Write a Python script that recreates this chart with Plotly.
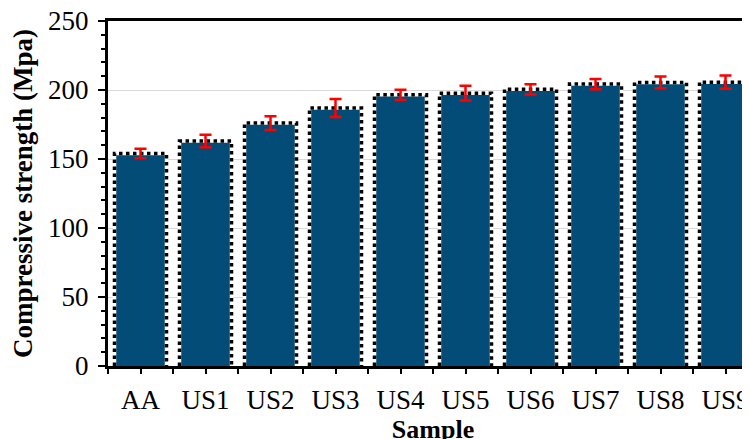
import plotly.graph_objects as go

samples = ["AA", "US1", "US2", "US3", "US4", "US5", "US6", "US7", "US8", "US9"]
strength = [154, 163, 176, 187, 196.5, 197.7, 200.5, 204.3, 205.5, 205.7]
error = [3.5, 4.5, 5, 6.5, 3.7, 5.3, 3.7, 3.7, 4.3, 4.8]

BAR_W = 0.8
FILL = "#034c78"
FONT = "Liberation Serif"

xs = list(range(len(samples)))

# outline path derived from data
ox, oy = [], []
for i, v in zip(xs, strength):
    ox += [i - BAR_W / 2, i - BAR_W / 2, i + BAR_W / 2, i + BAR_W / 2, None]
    oy += [0, v, v, 0, None]

fig = go.Figure()
fig.add_trace(go.Bar(x=xs, y=strength, width=BAR_W,
                     marker=dict(color=FILL, line=dict(width=0)),
                     showlegend=False, hoverinfo="skip"))
fig.add_trace(go.Scatter(x=ox, y=oy, mode="lines",
                         line=dict(color="white", width=3.5),
                         showlegend=False, hoverinfo="skip"))
fig.add_trace(go.Scatter(x=ox, y=oy, mode="lines",
                         line=dict(color="black", width=3.5, dash="dot"),
                         showlegend=False, hoverinfo="skip"))
fig.add_trace(go.Scatter(x=xs, y=strength, mode="markers",
                         marker=dict(size=1, color="rgba(0,0,0,0)"),
                         error_y=dict(type="data", array=error, visible=True,
                                      color="#ff0000", thickness=2.5, width=6),
                         showlegend=False, hoverinfo="skip"))

fig.update_layout(
    width=750, height=439,
    margin=dict(l=100, r=0, t=13, b=81, autoexpand=False),
    paper_bgcolor="white", plot_bgcolor="white",
    font=dict(family=FONT, color="black", size=27),
)
fig.update_xaxes(
    automargin=False,
    range=[-0.5, 9.5],
    tickmode="array", tickvals=xs, ticktext=samples,
    ticks="outside", ticklen=5, tickwidth=2, tickcolor="black",
    minor=dict(tickmode="linear", tick0=-0.5, dtick=1, ticks="outside",
               ticklen=5, tickwidth=2, tickcolor="black", showgrid=False),
    showline=True, linewidth=3, linecolor="black", mirror=True,
    showgrid=False, zeroline=False,
    tickfont=dict(size=27, family=FONT),
    ticklabelstandoff=3, ticklabeloverflow="allow",
    title=dict(text="<b>Sample</b>", font=dict(size=26, family=FONT), standoff=1),
)
fig.update_yaxes(
    automargin=False,
    range=[0, 250], tickmode="linear", tick0=0, dtick=50,
    ticks="outside", ticklen=7, tickwidth=2, tickcolor="black",
    minor=dict(tickmode="linear", tick0=0, dtick=10, ticks="outside",
               ticklen=4, tickwidth=2, tickcolor="black", showgrid=False),
    showline=True, linewidth=3, linecolor="black", mirror=False,
    showgrid=True, gridcolor="#d9d9d9", gridwidth=1, zeroline=False,
    tickfont=dict(size=27, family=FONT),
    ticklabelstandoff=4, ticklabeloverflow="allow",
    title=dict(text="<b>Compressive strength (Mpa)</b>", font=dict(size=27, family=FONT), standoff=9),
)

fig.write_html("out.html")
